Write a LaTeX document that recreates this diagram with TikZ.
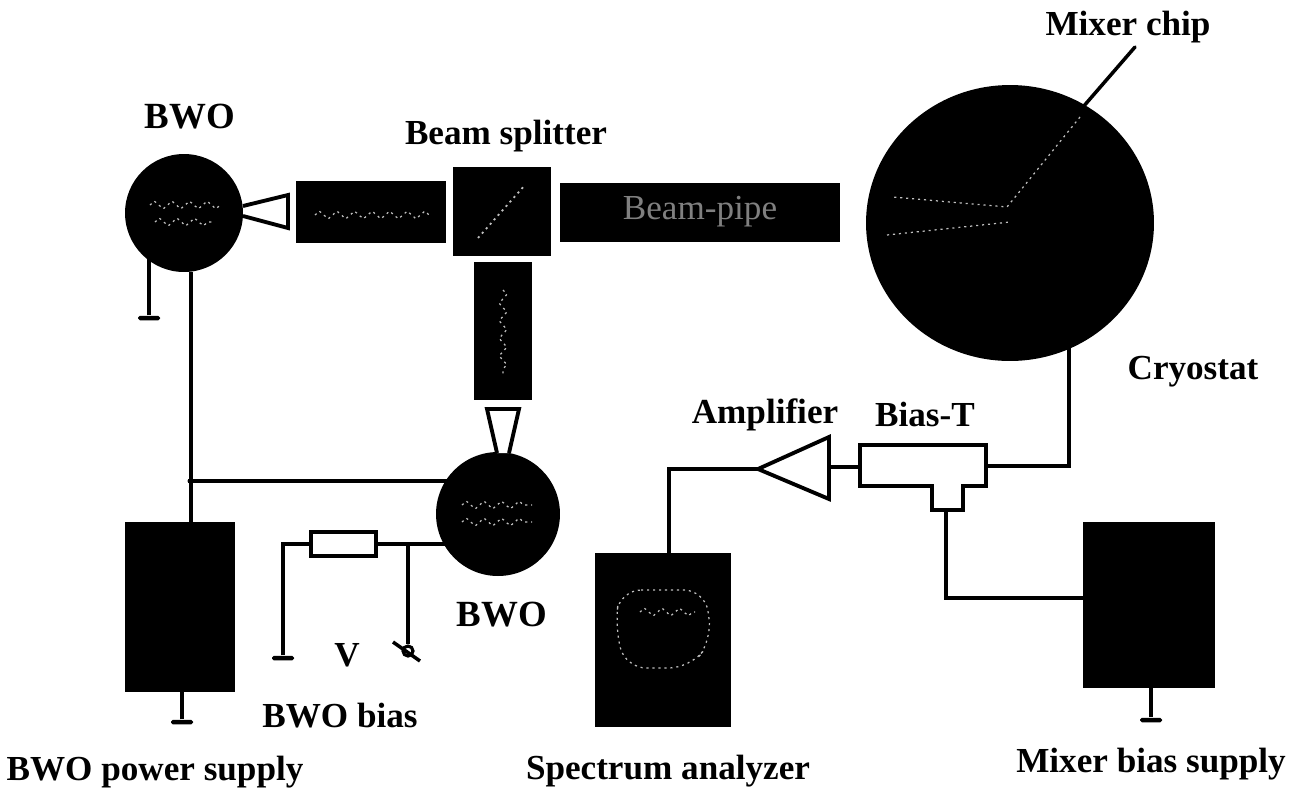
\documentclass[tikz,border=0pt]{standalone}
\usepackage{fontspec}
\setmainfont{Liberation Serif}
\usetikzlibrary{positioning,decorations.pathmorphing,shapes.geometric}

\begin{document}
\begin{tikzpicture}[
	x=0.02cm, y=-0.02cm,
	every node/.style={font=\fontsize{20}{22}\selectfont\bfseries},
	darkbox/.style={fill=black, inner sep=0pt},
	tube/.style={circle, fill=black, inner sep=0pt},
	gnd/.style={fill=black, rounded corners=1pt, minimum width=0.44cm, minimum height=0.09cm, inner sep=0pt},
	wire/.style={line width=2pt, line join=miter},
	outline/.style={line width=2.2pt, fill=white, line join=miter},
	speck/.style={white!75!black, line width=0.7pt, dash pattern=on 1.2pt off 2.2pt},
	wavy/.style={speck, decorate, decoration={zigzag, amplitude=2.2pt, segment length=10pt}},
	]
	\useasboundingbox (0,0) rectangle (1304,792);
	
	% sources and beam path
	\node[tube, minimum size=2.36cm] (BWOa) at (184,213) {};
	\node[tube, minimum size=2.48cm] (BWOb) at (498,514) {};
	\node[ellipse, fill=black, inner sep=0pt, minimum width=5.76cm, minimum height=5.52cm] (cryostat) at (1010,223) {};
	\node[darkbox, minimum width=3cm, minimum height=1.24cm] (atten) at (371,212) {};
	\node[darkbox, minimum width=1.98cm, minimum height=1.78cm] (splitter) at (502,211) {};
	\node[darkbox, minimum width=1.16cm, minimum height=2.76cm] (lens) at (503,331) {};
	\node[darkbox, minimum width=5.6cm, minimum height=1.18cm, text=white!50!black, font=\fontsize{20}{22}\selectfont] (pipe) at (700,212) {Beam-pipe};
	
	% horns
	\draw[outline] (243,206) coordinate (hornAt) -- (288,195) -- (288,228) -- (243,216) coordinate (hornAb);
	\draw[outline] (497,453) coordinate (hornBl) -- (487,409) -- (519,409) -- (509,453) coordinate (hornBr);
	
	% instruments
	\node[darkbox, minimum width=2.2cm, minimum height=3.4cm] (powersupply) at (180,607) {};
	\node[darkbox, minimum width=2.72cm, minimum height=3.48cm] (analyzer) at (663,640) {};
	\node[darkbox, minimum width=2.64cm, minimum height=3.32cm] (mixerbias) at (1149,605) {};
	
	% what shows through the black
	\draw[wavy] (150,205) -- (222,205);
	\draw[wavy] (155,222) -- (215,222);
	\draw[wavy] (462,505) -- (532,505);
	\draw[wavy] (462,522) -- (532,522);
	\draw[wavy] (315,215) -- (430,215);
	\draw[wavy] (503,290) -- (503,375);
	\draw[speck, line width=1pt] (478,238) -- (525,185);
	\draw[speck] (1080,117) -- (1007,207) -- (893,197);
	\draw[speck] (887,235) -- (1010,222);
	\draw[speck, rounded corners=12pt] (620,590) -- (705,590) -- (712,640) -- (690,668) -- (625,668) -- (615,625) -- cycle;
	\draw[wavy] (640,612) -- (695,612);
	
	% amplifier and bias-T
	\draw[outline] (758,469) coordinate (ampout) -- (829,437) -- (829,499) -- cycle;
	\coordinate (ampin) at (829,467);
	\draw[outline] (860,445) coordinate (teeL) -- (986,445) -- (986,486) -- (963,486) -- (963,510) -- (932,510) -- (932,486) -- (860,486) -- cycle;
	\coordinate (teeLm) at (860,467);
	\coordinate (teeR) at (986,466);
	\coordinate (teeB) at (946,510);
	
	% resistor
	\node[draw, line width=2.2pt, minimum width=1.3cm, minimum height=0.48cm, inner sep=0pt] (resistor) at (343.5,544) {};
	
	% grounds
	\node[gnd] (gndA) at (149,318) {};
	\node[gnd] (gndB) at (182,722) {};
	\node[gnd] (gndC) at (283,658) {};
	\node[gnd] (gndD) at (1151,720) {};
	
	% terminal of the bias
	\node[circle, draw, line width=1.8pt, minimum size=0.2cm, inner sep=0pt] (terminal) at (408,651) {};
	\coordinate (slashA) at (393,642);
	\coordinate (slashB) at (420,661);
	\draw[wire] (slashA) -- (slashB);
	
	% wiring
	\coordinate (junction) at (190,481);
	\draw[wire] (BWOa.-83) -- (powersupply.north -| BWOa.-83);
	\draw[wire] (junction) -- (junction -| BWOb.center);
	\fill (junction) circle (2.5);
	\draw[wire] (gndA) -- (gndA |- BWOa.-150);
	\draw[wire] (gndB) -- (gndB |- powersupply.south);
	\draw[wire] (gndD) -- (gndD |- mixerbias.south);
	\coordinate (tap) at (408,544);
	\draw[wire] (gndC) |- (resistor.west);
	\draw[wire] (resistor.east) -- (tap) -- (tap -| BWOb.center);
	\draw[wire] (tap) -- (terminal);
	\coordinate (cryoout) at (1069,340);
	\draw[wire] (cryoout) |- (teeR);
	\draw[wire] (ampin) -- (teeLm);
	\draw[wire] (ampout) -| (analyzer.north -| 669,0);
	\draw[wire] (teeB) |- (mixerbias.west |- 0,598);
	
	% mixer chip
	\coordinate (chipend) at (1135,47);
	\coordinate (chipin) at (1083,107);
	\draw[wire, line cap=round] (chipend) -- (chipin);
	
	% labels
	\node (mixerchip) at (1128,27) {Mixer chip};
	\node[font=\fontsize{21}{22}\selectfont\bfseries] (bwotop) at (190,117) {BWO};
	\node (splitterlabel) at (506,136) {Beam splitter};
	\node (cryolabel) at (1193,372) {Cryostat};
	\node (amplabel) at (765,415) {Amplifier};
	\node (teelabel) at (925,414) {Bias-T};
	\node[font=\fontsize{21}{22}\selectfont\bfseries] (bwobottom) at (502,615) {BWO};
	\node (vlabel) at (347,655) {V};
	\node (biaslabel) at (340,716) {BWO bias};
	\node (powerlabel) at (155,772) {BWO power supply};
	\node (analyzerlabel) at (668,771) {Spectrum analyzer};
	\node (mixerlabel) at (1151,764) {Mixer bias supply};
	
\end{tikzpicture}
\end{document}
